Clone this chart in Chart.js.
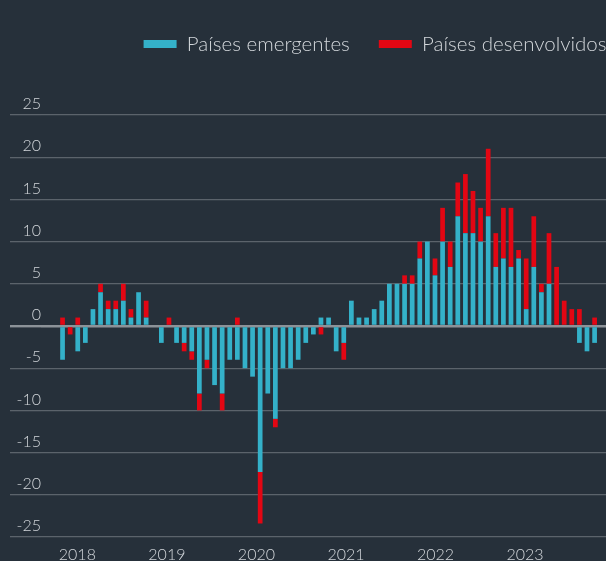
<!DOCTYPE html>
<html>
<head>
<meta charset="utf-8">
<script src="https://cdn.jsdelivr.net/npm/chart.js@4"></script>
<style>
  html, body { margin: 0; padding: 0; background: #26303a; }
  #wrap { width: 606px; height: 561px; }
</style>
</head>
<body>
<div id="wrap"><canvas id="flows"></canvas></div>
<script>
// monthly flows, Jan 2018 .. Nov 2023
const seriesNames = ['Países emergentes', 'Países desenvolvidos'];
const emerging = [
  -4, 0, -3, -2, 2, 4, 2, 2, 3, 1, 4, 1,
  0, -2, 0, -2, -2, -3, -8, -4, -7, -8, -4, -4,
  -5, -6, -17.3, -8, -11, -5, -5, -4, -2, -1, 1, 1,
  -3, -2, 3, 1, 1, 2, 3, 5, 5, 5, 5, 8,
  10, 6, 10, 7, 13, 11, 11, 10, 13, 7, 8, 7,
  8, 2, 7, 4, 5, 0, 0, 0, -2, -3, -2
];
const developed = [
  1, -1, 1, 0, 0, 1, 1, 1, 2, 1, 0, 2,
  0, 0, 1, 0, -1, -1, -2, -1, 0, -2, 0, 1,
  0, 0, -6.1, 0, -1, 0, 0, 0, 0, 0, -1, 0,
  0, -2, 0, 0, 0, 0, 0, 0, 0, 1, 1, 2,
  0, 2, 4, 3, 4, 7, 5, 4, 8, 4, 6, 7,
  1, 6, 6, 1, 6, 7, 3, 2, 2, 0, 1
];
const yearTicks = [2018, 2019, 2020, 2021, 2022, 2023];
const yMin = -25;
const yMax = 25;
const yStep = 5;

const colors = {
  emerging: '#34b1c9',
  developed: '#e30613',
  text: '#d3d7db',
  grid: '#5b636b',
  zero: '#8c9298',
};

Chart.defaults.font.family = "Lato, 'Open Sans', sans-serif";
Chart.defaults.font.weight = 300;
Chart.defaults.color = colors.text;

// push the plot down below the legend
const legendSpacer = {
  id: 'legendSpacer',
  beforeInit(chart) {
    const fit = chart.legend.fit;
    chart.legend.fit = function () {
      fit.bind(chart.legend)();
      this.height += 50.75;
    };
  },
};

const toPoints = (arr) => arr.map((v, i) => ({ x: i, y: v }));
const isZero = (ctx) => ctx.tick && ctx.tick.value === 0;

new Chart(document.getElementById('flows'), {
  type: 'bar',
  data: {
    datasets: [
      {
        label: seriesNames[0],
        data: toPoints(emerging),
        backgroundColor: colors.emerging,
        borderWidth: 0,
        barPercentage: 0.62,
        categoryPercentage: 1,
      },
      {
        label: seriesNames[1],
        data: toPoints(developed),
        backgroundColor: colors.developed,
        borderWidth: 0,
        barPercentage: 0.62,
        categoryPercentage: 1,
      },
    ],
  },
  options: {
    responsive: true,
    maintainAspectRatio: false,
    animation: false,
    events: [],
    layout: {
      // negative right padding only moves the legend; the plot area is clamped
      padding: { top: 4.75, left: 0, right: -29.5, bottom: 0 },
    },
    scales: {
      x: {
        type: 'linear',
        display: false,
        stacked: true,
        offset: false,
        min: -2.835,
        max: 71.5,
      },
      years: {
        type: 'linear',
        axis: 'x',
        position: 'bottom',
        offset: false,
        min: 2017.594,
        max: 2023.904,
        grid: { display: false, drawTicks: false },
        border: { display: false },
        ticks: {
          stepSize: 1,
          includeBounds: false,
          padding: 8,
          font: { size: 16, lineHeight: 1.2 },
          color: colors.text,
          callback: (v) => (yearTicks.includes(v) ? String(v) : ''),
        },
        afterFit(scale) {
          scale.height = 24;
        },
      },
      y: {
        stacked: true,
        min: yMin,
        max: yMax,
        border: { display: false },
        grid: {
          drawTicks: true,
          tickLength: 31,
          color: (ctx) => (isZero(ctx) ? colors.zero : colors.grid),
          lineWidth: (ctx) => (isZero(ctx) ? 2.4 : 1.3),
        },
        ticks: {
          stepSize: yStep,
          padding: -31,
          labelOffset: -11,
          font: { size: 16 },
          color: colors.text,
        },
        afterFit(scale) {
          scale.width = 41;
        },
      },
    },
    plugins: {
      legend: {
        position: 'top',
        align: 'end',
        labels: {
          boxWidth: 33,
          boxHeight: 8,
          padding: 29,
          font: { size: 20.5 },
          color: colors.text,
        },
      },
      tooltip: { enabled: false },
    },
  },
  plugins: [legendSpacer],
});
</script>
</body>
</html>
